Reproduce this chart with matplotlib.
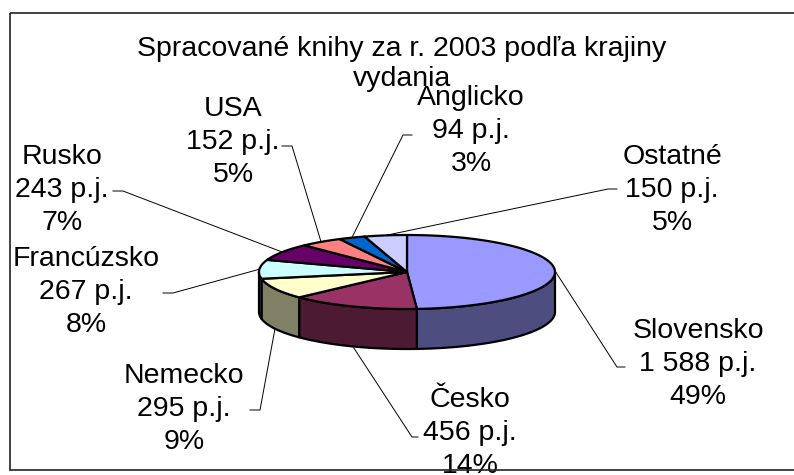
import numpy as np
import matplotlib
matplotlib.use("Agg")
import matplotlib.pyplot as plt
from matplotlib.patches import Polygon, Rectangle

plt.rcParams['font.family'] = ['Liberation Sans', 'DejaVu Sans']

TITLE = "Spracované knihy za r. 2003 podľa krajiny\nvydania"
countries = ["Slovensko", "Česko", "Nemecko", "Francúzsko", "Rusko", "USA", "Anglicko", "Ostatné"]
books = [1588, 456, 295, 267, 243, 152, 94, 150]
top_colors = ["#9999FF", "#993366", "#FFFFCC", "#CCFFFF", "#660066", "#FF8080", "#0066CC", "#CCCCFF"]

# label layout in pixels: text centre (middle line), leader elbow, leader end
label_xy = [(698, 364), (470, 433), (184, 409), (86, 292), (62, 190), (233, 142), (471, 131), (672, 190)]
elbow_xy = [(617, 367), (412, 437), (260, 410), (173, 293), (123, 191), (292, 146), (403, 135), (608, 189)]
tail_x = [625, 418, 250, 163, 113, 282, 412, 617]

W, H, DPI = 794, 475, 100
CX, CY = 407, 272      # pie centre (top face)
RX, RY = 148, 37       # ellipse radii
DEPTH = 40
FS = 20.5


def darker(c, f=0.5):
    r, g, b = matplotlib.colors.to_rgb(c)
    return (r * f, g * f, b * f)


def top_pt(t):
    t = np.radians(t)
    return CX + RX * np.cos(t), CY - RY * np.sin(t)


fig = plt.figure(figsize=(W / DPI, H / DPI), dpi=DPI)
ax = fig.add_axes([0, 0, 1, 1])
ax.set_xlim(0, W)
ax.set_ylim(H, 0)
ax.axis('off')

total = sum(books)
fracs = np.array(books) / total
cum = np.concatenate([[0], np.cumsum(fracs)])
starts = 90 - 360 * cum[:-1]
ends = 90 - 360 * cum[1:]

# sides (only the front half is visible)
for i in range(len(books)):
    a, b = max(ends[i], -180), min(starts[i], 0)
    if a >= b:
        continue
    ts = np.linspace(b, a, 60)
    top = [top_pt(t) for t in ts]
    bot = [(x, y + DEPTH) for x, y in top[::-1]]
    ax.add_patch(Polygon(top + bot, closed=True, facecolor=darker(top_colors[i]),
                         edgecolor='black', lw=1.6, joinstyle='round', zorder=2))

# top faces
for i in range(len(books)):
    ts = np.linspace(starts[i], ends[i], 80)
    pts = [(CX, CY)] + [top_pt(t) for t in ts]
    ax.add_patch(Polygon(pts, closed=True, facecolor=top_colors[i],
                         edgecolor='black', lw=1.6, joinstyle='round', zorder=3))

# labels + leader lines
for i, name in enumerate(countries):
    mid = (starts[i] + ends[i]) / 2
    sx, sy = top_pt(mid)
    if np.sin(np.radians(mid)) < 0:
        sy += DEPTH
    ex, ey = elbow_xy[i]
    ax.plot([sx, ex, tail_x[i]], [sy, ey, ey], color='black', lw=0.7, zorder=4)
    pct = round(fracs[i] * 100)
    txt = f"{name}\n{books[i]:,} p.j.\n{pct}%".replace(",", " ")
    ax.text(label_xy[i][0], label_xy[i][1], txt, ha='center', va='center',
            multialignment='center', fontsize=FS, linespacing=1.33, zorder=5)

ax.text(402, 64, TITLE, ha='center', va='center', multialignment='center',
        fontsize=FS, linespacing=1.25, zorder=5)

# chart frame
ax.add_patch(Rectangle((10, 13), 800, 457, fill=False, edgecolor='#222222', lw=1.2, zorder=6))

fig.savefig("out.png", dpi=DPI)
